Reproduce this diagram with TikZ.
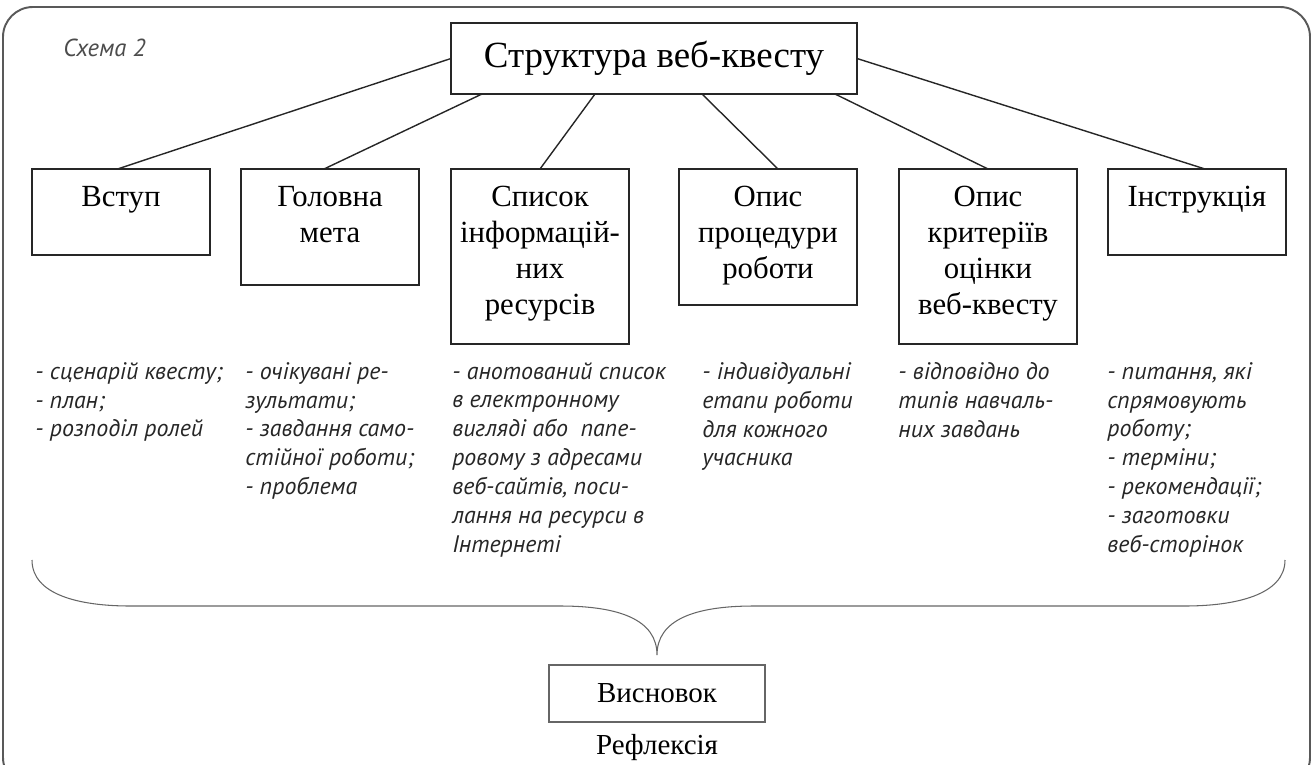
\documentclass[tikz,border=0pt]{standalone}
\usepackage{fontspec}
\setmainfont{Liberation Serif}
\newfontfamily\notefont{PT Sans}
\usetikzlibrary{positioning, calc}

\begin{document}
\begin{tikzpicture}[
    box/.style={draw=black!85, line width=0.8pt, rectangle, minimum width=3.56cm, inner sep=0pt, outer sep=0pt, anchor=north west},
    boxlbl/.style={anchor=north, yshift=-0.34cm, inner sep=0pt, align=center, font=\fontsize{17.5}{20.5}\selectfont},
    note/.style={anchor=north west, inner sep=0pt, align=left, text=black!85, font=\notefont\itshape\fontsize{13.6}{16.4}\selectfont},
    link/.style={draw=black!85, line width=0.8pt}
]
    \useasboundingbox (0,0) rectangle (26.26,-15.3);

    % Frame
    \draw[black!65, line width=1.1pt, rounded corners=0.6cm] (0.06,-0.14) rectangle (26.2,-15.75);
    \node[anchor=west, inner sep=0pt, text=black!70, font=\notefont\itshape\fontsize{14}{16}\selectfont] (scheme) at (1.26,-0.96) {Схема 2};

    % Top node
    \node[draw=black!85, line width=0.8pt, outer sep=0pt, minimum width=8.12cm, minimum height=1.42cm, anchor=north, font=\fontsize{21}{25}\selectfont] (title) at (13.08,-0.46) {Структура веб-квесту};

    % Parts of the quest
    \node[box, minimum height=1.72cm, label={[boxlbl]north:{Вступ}}] (vstup) at (0.64,-3.38) {};
    \node[box, minimum height=2.32cm, right=0.62cm of vstup.north east, anchor=north west, label={[boxlbl]north:{Головна\\мета}}] (meta) {};
    \node[box, minimum height=3.5cm, right=0.64cm of meta.north east, anchor=north west, label={[boxlbl]north:{Список\\інформацій-\\них\\ресурсів}}] (spysok) {};
    \node[box, minimum height=2.72cm, right=1.0cm of spysok.north east, anchor=north west, label={[boxlbl]north:{Опис\\процедури\\роботи}}] (opys) {};
    \node[box, minimum height=3.5cm, right=0.84cm of opys.north east, anchor=north west, label={[boxlbl]north:{Опис\\критеріїв\\оцінки\\веб-квесту}}] (kryt) {};
    \node[box, minimum height=1.72cm, right=0.62cm of kryt.north east, anchor=north west, label={[boxlbl]north:{Інструкція}}] (instr) {};

    % Links
    \draw[link] (title.west) -- ([xshift=-0.07cm]vstup.north);
    \draw[link] ([xshift=0.62cm]title.south west) -- ([xshift=-0.12cm]meta.north);
    \draw[link] ([xshift=2.88cm]title.south west) -- (spysok.north);
    \draw[link] ([xshift=-3.10cm]title.south east) -- ([xshift=0.2cm]opys.north);
    \draw[link] ([xshift=-0.44cm]title.south east) -- (kryt.north);
    \draw[link] (title.east) -- ([xshift=0.16cm]instr.north);

    % Notes under the boxes
    \node[note] (n_vstup) at (0.70,-7.24) {- сценарій квесту;\\- план;\\- розподіл ролей};
    \node[note] (n_meta) at (4.90,-7.24) {- очікувані ре-\\зультати;\\- завдання само-\\стійної роботи;\\- проблема};
    \node[note] (n_spysok) at (9.04,-7.24) {- анотований список\\в електронному\\вигляді або\ \ папе-\\ровому з адресами\\веб-сайтів, поси-\\лання на ресурси в\\Інтернеті};
    \node[note] (n_opys) at (14.04,-7.24) {- індивідуальні\\етапи роботи\\для кожного\\учасника};
    \node[note] (n_kryt) at (17.96,-7.24) {- відповідно до\\типів навчаль-\\них завдань};
    \node[note] (n_instr) at (22.14,-7.24) {- питання, які\\спрямовують\\роботу;\\- терміни;\\- рекомендації;\\- заготовки\\веб-сторінок};

    % Brace
    \draw[black!60, line width=0.6pt] (0.64,-11.2) .. controls (0.64,-11.9) and (1.6,-12.12) .. (2.6,-12.12)
        -- (11.2,-12.12) .. controls (12.4,-12.12) and (13.14,-12.4) .. (13.14,-13.1)
        .. controls (13.14,-12.4) and (13.88,-12.12) .. (15.08,-12.12)
        -- (23.7,-12.12) .. controls (24.7,-12.12) and (25.7,-11.9) .. (25.7,-11.2);

    % Conclusion
    \node[draw=black!60, line width=0.6pt, minimum width=4.32cm, minimum height=1.14cm, font=\fontsize{16.5}{19}\selectfont] (vysn) at (13.14,-13.87) {Висновок};
    \node[below=0.12cm of vysn, font=\fontsize{16.5}{19}\selectfont] (refl) {Рефлексія};
\end{tikzpicture}
\end{document}
